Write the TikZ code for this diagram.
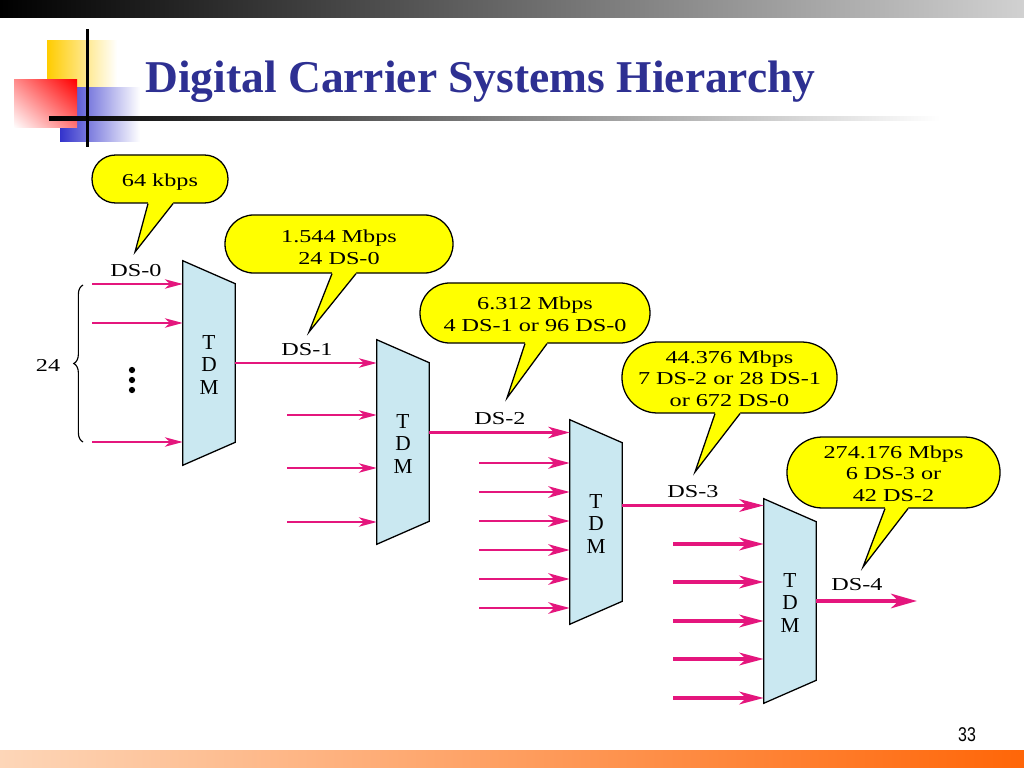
\documentclass[tikz,border=0pt]{standalone}
\usepackage{fontspec}
\setmainfont{Liberation Serif}
\newfontfamily\dgfont[FakeStretch=1.33]{Liberation Serif}
\newfontfamily\pgnumfont[FakeStretch=0.8]{Liberation Sans}
\usetikzlibrary{arrows.meta,calc,decorations.pathreplacing,shadings}
\definecolor{sigmag}{RGB}{228,22,125}
\definecolor{tdmblue}{RGB}{202,232,241}
\definecolor{titleblue}{RGB}{46,48,146}
\definecolor{bubyellow}{RGB}{255,255,0}
\definecolor{decoyellow}{RGB}{255,204,0}
\definecolor{decoblue}{RGB}{51,51,204}
\definecolor{peach}{RGB}{253,214,184}
\definecolor{orangeend}{RGB}{255,102,8}
\definecolor{redA}{RGB}{255,140,140}
\definecolor{redB}{RGB}{255,120,120}
\begin{document}
\begin{tikzpicture}[x=0.703125pt,y=-0.703125pt,
  every node/.style={inner sep=0pt},
  lbl/.style={font=\dgfont\fontsize{12.8}{15.2}\selectfont, align=center},
  tdmtext/.style={font=\fontsize{15}{15.6}\selectfont, align=center},
  bubble/.style={lbl, draw=black, line width=0.9pt, fill=bubyellow, rounded corners=#1},
  tdm/.style={minimum width=36.5625pt, minimum height=143.4375pt},
  trap/.style={draw=black, line width=0.9pt, fill=tdmblue, line join=miter},
  tailedge/.style={draw=black, line width=0.9pt, line join=miter},
  sigA/.style={draw=sigmag, line width=1.5pt, -{Stealth[length=12.5pt,width=6.6pt,inset=3.5pt]}},
  sigB/.style={draw=sigmag, line width=2.1pt, -{Stealth[length=15pt,width=8pt,inset=4.2pt]}},
  sigC/.style={draw=sigmag, line width=2.8pt, -{Stealth[length=17pt,width=8.8pt,inset=4.8pt]}},
  sigD/.style={draw=sigmag, line width=3.5pt, -{Stealth[length=18pt,width=10pt,inset=5pt]}},
]
\useasboundingbox (0,0) rectangle (1024,768);
% top and bottom bars
\shade[left color=black, right color=black!18] (0,0) rectangle (1024,18);
\shade[left color=peach, right color=orangeend] (0,750) rectangle (1024,768);
% title decoration
\shade[left color=decoyellow, middle color=decoyellow, right color=white] (47,41) rectangle (117,88);
\shade[left color=decoblue, middle color=decoblue, right color=white] (60,88) rectangle (140,142);
\shade[upper left=redA, upper right=red, lower left=white, lower right=redB] (14,80) rectangle (77,128);
\shade[left color=black, right color=white] (49,117) rectangle (940,121);
\fill[black] (85.5,29) rectangle (88.5,147);
\node[anchor=base west, font=\bfseries\fontsize{32}{38}\selectfont, text=titleblue] (title) at (145,93) {Digital Carrier Systems Hierarchy};
\node[font=\pgnumfont\fontsize{14}{14}\selectfont] (pg) at (967,735) {33};

% TDM blocks
\node[tdm] (T1) at (209,363) {};
\node[tdm] (T2) at (403,442) {};
\node[tdm] (T3) at (596,522) {};
\node[tdm] (T4) at (790,601) {};
\foreach \t in {T1,T2,T3,T4}{
  \draw[trap] (\t.north west) -- ($(\t.north east)+(0,23)$) -- ($(\t.south east)+(0,-23)$) -- (\t.south west) -- cycle;
  \node[tdmtext] (\t txt) at ($(\t)+(0,2)$) {T\\D\\M};
}

% inputs to TDM1
\foreach \y [count=\k] in {284,323,442}{
  \coordinate (a\k) at (92,\y);
  \draw[sigA] (a\k) -- (a\k -| T1.west);
}
\node[lbl] (ds0) at (136,271) {DS-0};
\foreach \y in {370,380,390} \fill (132,\y) circle (2.2pt);
\draw[decorate, decoration={brace, amplitude=6.5pt}, line width=0.8pt] (83,442) -- (83,285);
\node[lbl] (n24) at (48,365) {24};

% TDM1 -> TDM2
\draw[sigA] (T1.east) -- (T1.east -| T2.west);
\node[lbl] (ds1) at (307,350) {DS-1};
\foreach \y [count=\k] in {415,468,522}{
  \coordinate (b\k) at (287,\y);
  \draw[sigA] (b\k) -- (b\k -| T2.west);
}

% TDM2 -> TDM3
\coordinate (o2) at ($(T2.east)+(0,-9.5)$);
\draw[sigB] (o2) -- (o2 -| T3.west);
\node[lbl] (ds2) at (500,419) {DS-2};
\foreach \y [count=\k] in {463,492,521,550,579,608}{
  \coordinate (c\k) at (479,\y);
  \draw[sigB] (c\k) -- (c\k -| T3.west);
}

% TDM3 -> TDM4
\coordinate (o3) at ($(T3.east)+(0,-16.5)$);
\draw[sigC] (o3) -- (o3 -| T4.west);
\node[lbl] (ds3) at (693,492) {DS-3};
\foreach \y [count=\k] in {544,582,621,659,698}{
  \coordinate (d\k) at (673,\y);
  \draw[sigC] (d\k) -- (d\k -| T4.west);
}

% TDM4 output
\coordinate (ds4end) at (917,601);
\draw[sigD] (T4.east) -- (ds4end);
\node[lbl] (ds4) at (857,585) {DS-4};

% callouts
\node[bubble=16.6pt, minimum width=95.6pt, minimum height=33.75pt] (B1) at (160,179) {};
\node[bubble=20.2pt, minimum width=160.3pt, minimum height=40.8pt] (B2) at (339,244) {};
\node[bubble=20.9pt, minimum width=161.7pt, minimum height=42.2pt] (B3) at (535,313) {};
\node[bubble=24.8pt, minimum width=151.2pt, minimum height=49.9pt] (B4) at (729.5,377.5) {};
\node[bubble=24.8pt, minimum width=149.8pt, minimum height=49.9pt] (B5) at (893.5,472.5) {};

\foreach \b/\xl/\xr/\tx/\ty in {B1/148/173/135/252, B2/332/356/309/332, B3/525/547/507/398, B4/715/740/695/472, B5/885/908/863/567}{
  \coordinate (\b l) at (\b.south -| \xl,0);
  \coordinate (\b r) at (\b.south -| \xr,0);
  \coordinate (\b tip) at (\tx,\ty);
  \fill[bubyellow] ($(\b l)+(0,-3)$) -- (\b l) -- (\b tip) -- (\b r) -- ($(\b r)+(0,-3)$) -- cycle;
  \draw[tailedge] (\b l) -- (\b tip) -- (\b r);
}

\node[lbl] (B1t) at (160,182) {64 kbps};
\node[lbl] (B2t) at (339,247) {1.544 Mbps\\24 DS-0};
\node[lbl] (B3t) at (535,314.5) {6.312 Mbps\\4 DS-1 or 96 DS-0};
\node[lbl] (B4t) at (729.5,378.5) {44.376 Mbps\\7 DS-2 or 28 DS-1\\or 672 DS-0};
\node[lbl] (B5t) at (893.5,473.5) {274.176 Mbps\\6 DS-3 or\\42 DS-2};
\end{tikzpicture}
\end{document}
